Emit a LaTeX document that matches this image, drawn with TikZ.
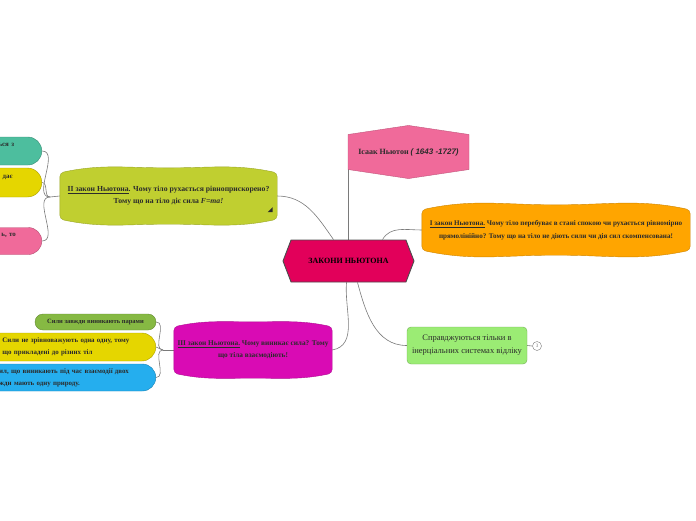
\documentclass[tikz,border=0pt]{standalone}
\usepackage{fontspec}
\setmainfont{Liberation Serif}
\newfontfamily\handfont{Liberation Sans}
\usepackage{tikz}
\usetikzlibrary{positioning,calc,backgrounds,shapes.symbols,shapes.misc}
\definecolor{rootred}{HTML}{E2005A}
\definecolor{mapink}{HTML}{F06A9A}
\definecolor{maorange}{HTML}{FFA500}
\definecolor{malime}{HTML}{C0CF30}
\definecolor{mamagenta}{HTML}{D90BB4}
\definecolor{mamint}{HTML}{9BEC74}
\definecolor{mateal}{HTML}{4DBE9E}
\definecolor{mayellow}{HTML}{E5D600}
\definecolor{maolive}{HTML}{86B943}
\definecolor{mablue}{HTML}{25AEEE}
\definecolor{maline}{HTML}{7A7A7A}
\definecolor{maink}{HTML}{2B2B2B}
\tikzset{
    every node/.style={font=\bfseries\fontsize{7.1}{12.5}\selectfont,text=maink},
    root/.style={signal,signal to=east and west,signal pointer angle=138,draw=black!70,line width=0.9pt,fill=rootred,minimum width=131pt,minimum height=42pt,inner sep=0pt,text=black,font=\bfseries\fontsize{8}{10}\selectfont},
    person/.style={signal,signal to=north and south,signal pointer angle=163,draw=mapink!80!black,fill=mapink,minimum width=121pt,minimum height=50pt,inner sep=0pt,font=\bfseries\fontsize{8}{10}\selectfont},
    law/.style={align=center,inner sep=0pt},
    frame/.style={rounded corners=4pt,draw=mamint!75!black,fill=mamint,align=center,minimum width=120pt,minimum height=37pt,inner sep=0pt,font=\fontsize{8.5}{13}\selectfont},
    leaf/.style={rounded rectangle,rounded rectangle west arc=none,draw=#1!75!black,fill=#1,align=left,inner ysep=2pt,font=\bfseries\fontsize{6.9}{12}\selectfont},
    pill/.style={rounded rectangle,draw=#1!75!black,fill=#1,inner sep=0pt,font=\bfseries\fontsize{6.5}{12}\selectfont},
    badge/.style={circle,draw=maline,fill=white,minimum size=9pt,inner sep=0pt,text=maline,font=\fontsize{5}{5}\selectfont},
    link/.style={draw=maline,line width=0.6pt}
}
\newcommand{\bulge}[2]{%
    \path[fill=#2,draw=#2!80!black,rounded corners=4pt]
        ([yshift=-5pt]#1.north west) to[out=12,in=180] (#1.north) to[out=0,in=168] ([yshift=-5pt]#1.north east)
        -- ([yshift=5pt]#1.south east) to[out=192,in=0] (#1.south) to[out=180,in=-12] ([yshift=5pt]#1.south west) -- cycle;}

\begin{document}
\begin{tikzpicture}[x=1pt,y=-1pt]
\useasboundingbox (0,0) rectangle (696,520);
\clip (0,0) rectangle (696,520);

% centre and author
\node[root] (zakony) at (348.5,261) {ЗАКОНИ НЬЮТОНА};
\node[person] (nyuton) at (408.5,152) {Ісаак Ньютон {\handfont\itshape ( 1643 -1727)}};

% the three laws
\node[law,minimum width=268pt,minimum height=50pt] (zakon1) at (556,230)
    {\underline{I закон Ньютона.} Чому тіло перебуває в стані спокою чи рухається рівномірно\\
     прямолінійно? Тому що на тіло не діють сили чи дія сил скомпенсована!};
\node[law,minimum width=217pt,minimum height=56pt,font=\bfseries\fontsize{7.7}{12}\selectfont] (zakon2) at (168.5,196)
    {\underline{II закон Ньютона}. Чому тіло рухається рівноприскорено?\\
     Тому що на тіло діє сила \textit{F=ma!}};
\node[law,minimum width=158pt,minimum height=56pt,font=\bfseries\fontsize{7.3}{12}\selectfont] (zakon3) at (253,350)
    {\underline{III закон Ньютона.} Чому виникає сила? Тому\\ що тіла взаємодіють!};
\node[frame] (inerc) at (467,345.5) {Справджуються тільки в\\ інерціальних системах відліку};
\node[badge] (kilk) at (537,346) {3};

% children of II
\node[leaf=mateal,anchor=east,text width=32pt,inner xsep=9pt,minimum height=28pt] (vzaem) at (42,151) {ься з\\.};
\node[leaf=mayellow,anchor=east,text width=32pt,inner xsep=9pt,minimum height=29pt] (daie) at (42,182.5) {, дає\\~};
\node[leaf=mapink,anchor=east,text width=29pt,inner xsep=9pt,minimum height=27pt] (toto) at (42,241) {ь, то\\~};
\coordinate (hub2) at (50,197);

% children of III
\node[pill=maolive,minimum width=121pt,minimum height=16pt] (pary) at (95.5,322) {Сили завжди виникають парами};
\node[leaf=mayellow,anchor=east,text width=139pt,inner xsep=11pt,minimum height=28pt] (riznitil) at (156,347)
    {Сили не зрівноважують одна одну, тому\\ що прикладені до різних тіл};
\node[leaf=mablue,anchor=east,text width=146pt,inner xsep=7pt,minimum height=27pt] (pryroda) at (156,377.5)
    {ил, що виникають під час взаємодії двох\\ жди мають одну природу.};
\coordinate (hub3) at (163,350);

\fill[maink] ([shift={(-4.5pt,12pt)}]zakon2.south east) -- ++(0pt,5pt) -- ++(-5pt,-5pt) -- cycle;

\begin{scope}[on background layer]
\draw[link] (zakony.north) -- (zakony.north |- nyuton.center);
\draw[link] (zakon2.east) to[out=0,in=125] ([xshift=-15pt]zakony.north);
\draw[link] ([xshift=34pt]zakony.north) to[out=60,in=180] (zakon1.west);
\draw[link] ([xshift=-2pt]zakony.south) to[out=-95,in=10] (zakon3.east);
\draw[link] ([xshift=9pt]zakony.south) to[out=-75,in=180] (inerc.west);
\draw[link] (inerc.east) -- (kilk.west);
\draw[link] (zakon2.west) -- (hub2);
\foreach \n in {vzaem,daie,toto}
    \draw[link] (hub2) to[out=180,in=0] (\n.east);
\draw[link] (zakon3.west) -- (hub3);
\foreach \n in {pary,riznitil,pryroda}
    \draw[link] (hub3) to[out=180,in=0] (\n.east);
\bulge{zakon1}{maorange}
\bulge{zakon2}{malime}
\bulge{zakon3}{mamagenta}
\end{scope}
\end{tikzpicture}
\end{document}
